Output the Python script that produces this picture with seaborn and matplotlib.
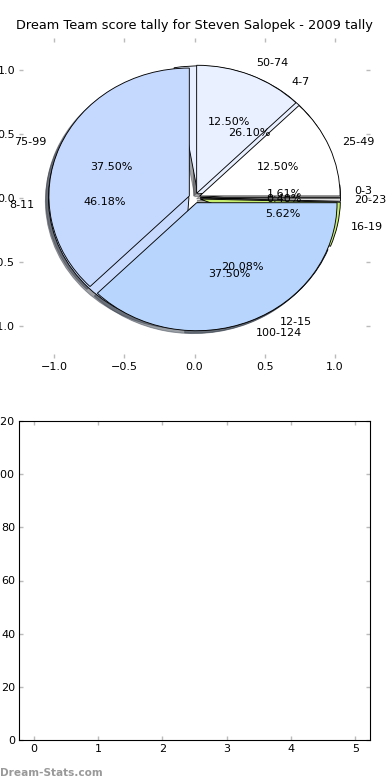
"""
Dream Team score tally - pie chart (two overlaid pies) plus an empty panel.
"""

import matplotlib
matplotlib.use("Agg")
import matplotlib.pyplot as plt
import seaborn as sns

# Datos ---------------------------------------------------------------
titulo = "Dream Team score tally for Steven Salopek - 2009 tally"

rangos_a = ["0-3", "4-7", "8-11", "12-15", "16-19", "20-23"]
valores_a = [1.61, 26.10, 46.18, 20.08, 5.62, 0.40]
colores_a = ["#ffffff", "#e8f0ff", "#c8dafe", "#b8d6fe", "#c8ee70", "#dddddd"]

rangos_b = ["25-49", "50-74", "75-99", "100-124"]
valores_b = [12.5, 12.5, 37.5, 37.5]
colores_b = ["#ffffff", "#e9f0ff", "#c5d8fd", "#b7d5fd"]

yticks_barras = [0, 20, 40, 60, 80, 100, 120]
xticks_barras = [0, 1, 2, 3, 4, 5]

sns.set_theme(style="white", rc={
    "xtick.direction": "in",
    "ytick.direction": "in",
    "xtick.color": "#bbbbbb",
    "ytick.color": "#bbbbbb",
    "xtick.labelcolor": "black",
    "ytick.labelcolor": "black",
    "xtick.major.size": 4,
    "ytick.major.size": 4,
    "xtick.top": True,
    "ytick.right": True,
    "xtick.bottom": True,
    "ytick.left": True,
    "text.color": "black",
    "axes.labelcolor": "black",
    "font.size": 10,
})
plt.rcParams["font.family"] = ["DejaVu Sans"]

fig = plt.figure(figsize=(390 / 80, 780 / 80), dpi=80)

# Tarta ---------------------------------------------------------------
ax1 = fig.add_axes([19 / 390, 1 - 358 / 780, 351 / 390, 320 / 780])
borde = {"edgecolor": "black", "linewidth": 0.8}
ax1.pie(valores_a, labels=rangos_a, colors=colores_a, autopct="%1.2f%%",
        explode=[0.04] * len(valores_a), shadow=True, wedgeprops=borde,
        textprops={"fontsize": 10, "color": "black"})
ax1.pie(valores_b, labels=rangos_b, colors=colores_b, autopct="%1.2f%%",
        explode=[0.04] * len(valores_b), shadow=True, wedgeprops=borde,
        textprops={"fontsize": 10, "color": "black"})
ax1.set_aspect("auto")
ax1.set_xlim(-1.25, 1.25)
ax1.set_ylim(-1.25, 1.25)
ax1.set_xticks([-1.0, -0.5, 0.0, 0.5, 1.0])
ax1.set_yticks([-1.0, -0.5, 0.0, 0.5, 1.0])
ax1.tick_params(labelsize=10)
for s in ax1.spines.values():
    s.set_visible(False)
ax1.set_title(titulo, fontsize=11.6, pad=8, color="black")

# Panel vacio ---------------------------------------------------------
ax2 = fig.add_axes([19 / 390, 1 - 740 / 780, 351 / 390, 319 / 780])
ax2.set_xlim(-0.23, 5.23)
ax2.set_ylim(0, 120)
ax2.set_xticks(xticks_barras)
ax2.set_yticks(yticks_barras)
ax2.tick_params(labelsize=10)
for s in ax2.spines.values():
    s.set_visible(True)
    s.set_color("black")
    s.set_linewidth(1.0)

fig.text(0.0, 0.003, "Dream-Stats.com", color="#999999", fontsize=9.5,
         fontweight="bold", ha="left", va="bottom")

fig.savefig("out.png", dpi=80)
